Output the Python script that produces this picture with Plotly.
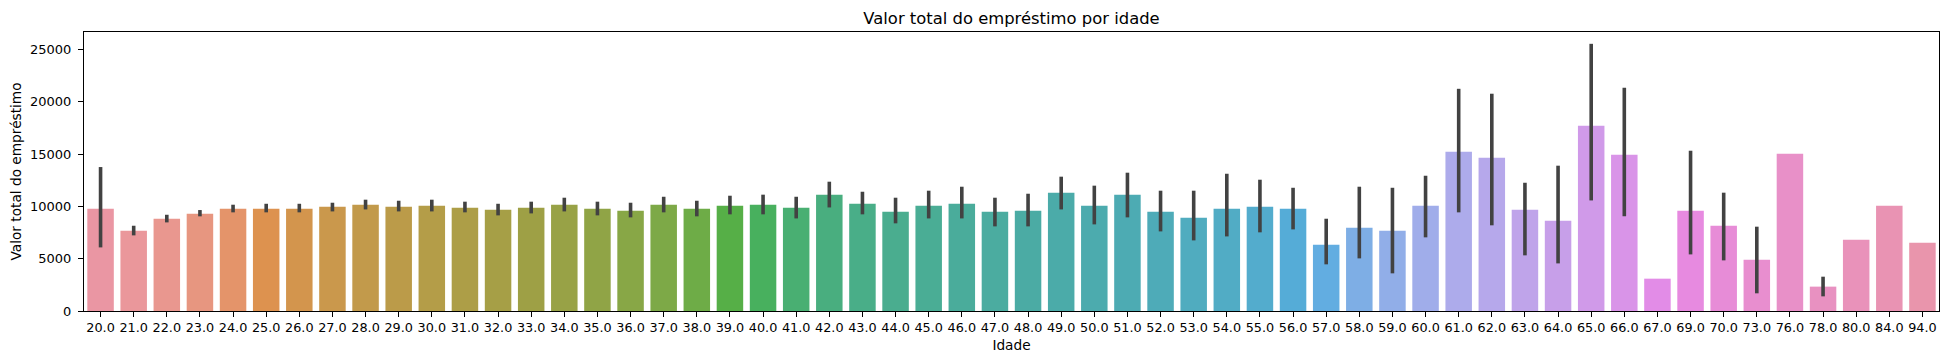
import math
import colorsys
import plotly.graph_objects as go

# ---- data ----
idade = ["20.0", "21.0", "22.0", "23.0", "24.0", "25.0", "26.0", "27.0", "28.0", "29.0",
         "30.0", "31.0", "32.0", "33.0", "34.0", "35.0", "36.0", "37.0", "38.0", "39.0",
         "40.0", "41.0", "42.0", "43.0", "44.0", "45.0", "46.0", "47.0", "48.0", "49.0",
         "50.0", "51.0", "52.0", "53.0", "54.0", "55.0", "56.0", "57.0", "58.0", "59.0",
         "60.0", "61.0", "62.0", "63.0", "64.0", "65.0", "66.0", "67.0", "69.0", "70.0",
         "73.0", "76.0", "78.0", "80.0", "84.0", "94.0"]
valor_medio = [9780, 7680, 8820, 9300, 9780, 9780, 9780, 9970, 10160, 9970,
               10060, 9870, 9680, 9870, 10160, 9780, 9590, 10160, 9780, 10060,
               10160, 9870, 11120, 10260, 9490, 10060, 10260, 9490, 9590, 11310,
               10060, 11120, 9490, 8920, 9780, 9970, 9780, 6340, 7960, 7680,
               10060, 15220, 14650, 9680, 8630, 17710, 14940, 3090, 9590, 8150,
               4900, 15030, 2330, 6820, 10060, 6530]
ic_superior = [13760, 8150, 9200, 9650, 10160, 10250, 10250, 10350, 10640, 10540,
               10640, 10450, 10250, 10450, 10830, 10450, 10350, 10920, 10540, 11020,
               11120, 10920, 12360, 11400, 10830, 11500, 11880, 10830, 11210, 12840,
               11980, 13220, 11500, 11500, 13120, 12550, 11780, 8820, 11880, 11780,
               12930, 21240, 20770, 12260, 13890, 25540, 21340, None, 15320, 11310,
               8060, None, 3280, None, None, None]
ic_inferior = [6080, 7230, 8470, 9050, 9430, 9430, 9430, 9520, 9710, 9520,
               9520, 9430, 9140, 9330, 9520, 9140, 8950, 9430, 9050, 9240,
               9240, 8850, 9900, 9240, 8380, 8850, 8850, 8090, 8090, 9710,
               8280, 8950, 7610, 6750, 7130, 7520, 7800, 4460, 5030, 3600,
               7040, 9430, 8190, 5320, 4550, 10570, 9050, None, 5410, 4840,
               1690, None, 1400, None, None, None]

# ---- seaborn-like husl palette (l=0.7, desaturated 0.75) ----
_M = [[3.2406, -1.5372, -0.4986], [-0.9689, 1.8758, 0.0415], [0.0557, -0.2040, 1.0570]]
_refU, _refV = 0.19784, 0.46834
_kappa, _eps = 24389 / 27, 216 / 24389


def _max_chroma(L, H):
    hrad = math.radians(H)
    sinH, cosH = math.sin(hrad), math.cos(hrad)
    sub1 = (L + 16) ** 3 / 1560896.0
    sub2 = sub1 if sub1 > 0.008856 else L / 903.3
    result = float("inf")
    for m1, m2, m3 in _M:
        top = (0.99915 * m1 + 1.05122 * m2 + 1.14460 * m3) * sub2
        rb = 0.86330 * m3 - 0.17266 * m2
        lb = 0.12949 * m3 - 0.38848 * m1
        bottom = (rb * sinH + lb * cosH) * sub2
        for t in (0.0, 1.0):
            C = L * (top - 1.05122 * t) / (bottom + 0.17266 * sinH * t)
            if 0.0 < C < result:
                result = C
    return result


def _f_inv(t):
    return t ** 3 if t ** 3 > _eps else (116.0 * t - 16.0) / _kappa


def _from_linear(c):
    return 12.92 * c if c <= 0.0031308 else 1.055 * c ** (1 / 2.4) - 0.055


def husl_to_rgb(h, s, l):
    C = _max_chroma(l, h) / 100.0 * s
    hr = math.radians(h)
    U, V = math.cos(hr) * C, math.sin(hr) * C
    varY = _f_inv((l + 16.0) / 116.0)
    varU = U / (13.0 * l) + _refU
    varV = V / (13.0 * l) + _refV
    Y = varY
    X = -(9.0 * Y * varU) / ((varU - 4.0) * varV - varU * varV)
    Z = (9.0 * Y - 15.0 * varV * Y - varV * X) / (3.0 * varV)
    rgb = [_from_linear(r[0] * X + r[1] * Y + r[2] * Z) for r in _M]
    return [min(max(c, 0.0), 1.0) for c in rgb]


def husl_palette(n, h=0.01, s=0.9, l=0.7, desat=0.75):
    out = []
    for i in range(n):
        hue = ((i / n) + h) % 1 * 359
        r, g, b = husl_to_rgb(hue, s * 99, l * 99)
        hh, ll, ss = colorsys.rgb_to_hls(r, g, b)
        r, g, b = colorsys.hls_to_rgb(hh, ll, ss * desat)
        out.append("rgb(%d,%d,%d)" % (round(r * 255), round(g * 255), round(b * 255)))
    return out


cores = husl_palette(len(idade))

err_plus = [(u - v) if u is not None else 0 for u, v in zip(ic_superior, valor_medio)]
err_minus = [(v - d) if d is not None else 0 for d, v in zip(ic_inferior, valor_medio)]

FONT = "DejaVu Sans, sans-serif"

# the page body adds an 8px margin, so the figure is 8px smaller and margins compensate
W, H = 1941, 356

fig = go.Figure(go.Bar(
    x=idade, y=valor_medio,
    marker=dict(color=cores, line=dict(width=0)),
    error_y=dict(type="data", symmetric=False, array=err_plus, arrayminus=err_minus,
                 color="#424242", thickness=3.6, width=0),
))

fig.update_layout(
    width=W, height=H,
    margin=dict(l=76, r=10, t=24, b=53, autoexpand=False),
    paper_bgcolor="white", plot_bgcolor="white",
    bargap=0.2,
    showlegend=False,
    font=dict(family=FONT, size=13, color="black"),
    title=dict(text="Valor total do empréstimo por idade", x=0.5, xanchor="center",
               xref="paper", y=1 - 10 / H, yanchor="middle", yref="container",
               font=dict(family=FONT, size=16.4, color="black")),
)
fig.update_xaxes(
    type="category", range=[-0.5, len(idade) - 0.5],
    showline=True, mirror=True, linecolor="black", linewidth=1,
    ticks="outside", ticklen=5, tickcolor="black", tickwidth=1,
    showgrid=False, tickangle=0, automargin=False,
    tickfont=dict(family=FONT, size=12.8, color="black"),
    title=dict(text="Idade", standoff=6, font=dict(family=FONT, size=13.7, color="black")),
)
fig.update_yaxes(
    range=[0, 26670], tickvals=[0, 5000, 10000, 15000, 20000, 25000],
    ticktext=["0", "5000", "10000", "15000", "20000", "25000"],
    showline=True, mirror=True, linecolor="black", linewidth=1,
    ticks="outside", ticklen=5, tickcolor="black", tickwidth=1,
    showgrid=False, zeroline=False, automargin=False,
    ticklabelstandoff=4,
    tickfont=dict(family=FONT, size=13, color="black"),
    title=dict(text="Valor total do empréstimo", standoff=6,
               font=dict(family=FONT, size=13.7, color="black")),
)

fig.write_html("out.html")
